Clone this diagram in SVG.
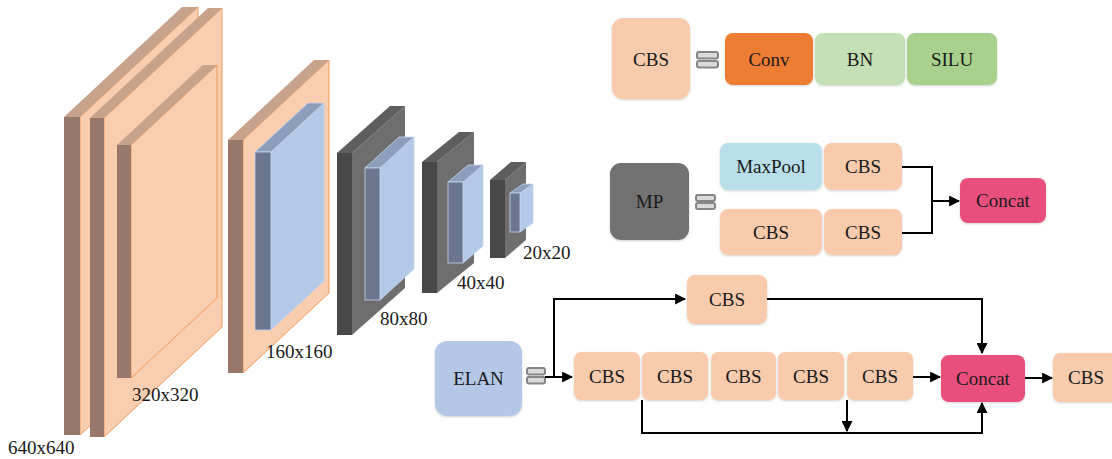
<svg xmlns="http://www.w3.org/2000/svg" width="1112" height="459" viewBox="0 0 1112 459">
  <defs>
    <filter id="soft" x="-10%" y="-10%" width="120%" height="125%">
      <feDropShadow dx="0" dy="1" stdDeviation="1.2" flood-color="#000" flood-opacity="0.18"/>
    </filter>
    <marker id="arrow" viewBox="0 0 10 10" refX="9" refY="5" markerWidth="5.5" markerHeight="5.5" orient="auto" markerUnits="strokeWidth">
      <path d="M0,0 L10,5 L0,10 z" fill="#000"/>
    </marker>
  </defs>
  <style>
    text { font-family: "Liberation Serif", "Times New Roman", serif; font-size: 19px; fill: #1a1a1a; }
    .lbl { text-anchor: middle; dominant-baseline: central; }
    .box { filter: url(#soft); }
    .cbs { fill: #F8CBAD; }
    .conv { fill: #ED7D31; }
    .bn { fill: #C5E0B4; }
    .silu { fill: #A9D18E; }
    .pool { fill: #B9E0EA; }
    .mp { fill: #727272; }
    .cat { fill: #E9507C; }
    .elan { fill: #B4C7E7; }
    .eq { fill: #DADADA; stroke: #858585; stroke-width: 2; }
    .wire { fill: none; stroke: #000; stroke-width: 2; }
    /* slab faces */
    .o-front { fill: #97786A; }
    .o-top { fill: #C8A38B; }
    .o-side { fill: #F9CDB0; stroke: #F39A5C; stroke-width: 1; }
    .b-front { fill: #6A778F; stroke: #C6D4EE; stroke-width: 0.8; }
    .b-top { fill: #8C9EBB; stroke: #C6D4EE; stroke-width: 0.8; }
    .b-side { fill: #B4C8E8; stroke: #C6D4EE; stroke-width: 0.8; }
    .d-front { fill: #484848; }
    .d-top { fill: #5E5E5E; }
    .d-side { fill: #6E6E6E; }
  </style>

  <!-- feature-map slabs: front strip, top face, side face -->
  <g id="slab-640a">
    <polygon class="o-side" points="80,117 198,7 198,327 80,435"/>
    <polygon class="o-top" points="64,117 80,117 198,7 182,7"/>
    <rect class="o-front" x="64" y="117" width="16" height="318"/>
  </g>
  <g id="slab-640b">
    <polygon class="o-side" points="104,118 222,8 222,327 104,437"/>
    <polygon class="o-top" points="90,118 104,118 222,8 208,8"/>
    <rect class="o-front" x="90" y="118" width="14" height="319"/>
  </g>
  <g id="slab-320">
    <polygon class="o-side" points="131,145 217,65 217,298 131,378"/>
    <polygon class="o-top" points="117,145 131,145 217,65 203,65"/>
    <rect class="o-front" x="117" y="145" width="14" height="233"/>
  </g>
  <g id="slab-160">
    <polygon class="o-side" points="243,140 329,60 329,293 243,373"/>
    <polygon class="o-top" points="228,140 243,140 329,60 314,60"/>
    <rect class="o-front" x="228" y="140" width="15" height="233"/>
    <polygon class="b-side" points="271,152 324,103 324,281 271,330"/>
    <polygon class="b-top" points="255,152 271,152 324,103 308,103"/>
    <rect class="b-front" x="255" y="152" width="16" height="178"/>
  </g>
  <g id="slab-80">
    <polygon class="d-side" points="352,153 405,106 405,288 352,335"/>
    <polygon class="d-top" points="337,153 352,153 405,106 390,106"/>
    <rect class="d-front" x="337" y="153" width="15" height="182"/>
    <polygon class="b-side" points="380,168 414,137 414,269 380,300"/>
    <polygon class="b-top" points="365,168 380,168 414,137 399,137"/>
    <rect class="b-front" x="365" y="168" width="15" height="132"/>
  </g>
  <g id="slab-40">
    <polygon class="d-side" points="437,162 474,132 474,263 437,293"/>
    <polygon class="d-top" points="422,162 437,162 474,132 459,132"/>
    <rect class="d-front" x="422" y="162" width="15" height="131"/>
    <polygon class="b-side" points="463,182 483,165 483,246 463,263"/>
    <polygon class="b-top" points="448,182 463,182 483,165 468,165"/>
    <rect class="b-front" x="448" y="182" width="15" height="81"/>
  </g>
  <g id="slab-20">
    <polygon class="d-side" points="505,180 526,162 526,240 505,258"/>
    <polygon class="d-top" points="490,180 505,180 526,162 511,162"/>
    <rect class="d-front" x="490" y="180" width="15" height="78"/>
    <polygon class="b-side" points="520,193 533,184 533,223 520,232"/>
    <polygon class="b-top" points="510,193 520,193 533,184 523,184"/>
    <rect class="b-front" x="510" y="193" width="10" height="39"/>
  </g>

  <g id="size-labels">
    <text x="8" y="454">640x640</text>
    <text x="132" y="401">320x320</text>
    <text x="266" y="358">160x160</text>
    <text x="380" y="325">80x80</text>
    <text x="457" y="289">40x40</text>
    <text x="523" y="259">20x20</text>
  </g>

  <!-- CBS definition -->
  <g id="cbs-def">
    <rect class="box cbs" x="612" y="18" width="78" height="81" rx="11"/>
    <text class="lbl" x="651" y="59">CBS</text>
  </g>
  <g id="eq-1">
    <rect class="eq" x="697" y="52" width="21" height="6.5" rx="2"/>
    <rect class="eq" x="697" y="61" width="21" height="6.5" rx="2"/>
  </g>
  <g id="conv">
    <rect class="box conv" x="725" y="33" width="88" height="52" rx="8"/>
    <text class="lbl" x="769" y="59">Conv</text>
  </g>
  <g id="bn">
    <rect class="box bn" x="815" y="33" width="90" height="52" rx="8"/>
    <text class="lbl" x="860" y="59">BN</text>
  </g>
  <g id="silu">
    <rect class="box silu" x="907" y="33" width="90" height="52" rx="8"/>
    <text class="lbl" x="952" y="59">SILU</text>
  </g>

  <!-- MP definition -->
  <g id="mp">
    <rect class="box mp" x="610" y="163" width="79" height="77" rx="11"/>
    <text class="lbl" x="649.5" y="201">MP</text>
  </g>
  <g id="eq-2">
    <rect class="eq" x="696" y="195" width="19" height="6" rx="2"/>
    <rect class="eq" x="696" y="203" width="19" height="6" rx="2"/>
  </g>
  <g id="maxpool">
    <rect class="box pool" x="720" y="143" width="102" height="47" rx="8"/>
    <text class="lbl" x="771" y="166">MaxPool</text>
  </g>
  <g id="mp-cbs-top">
    <rect class="box cbs" x="824" y="143" width="78" height="47" rx="8"/>
    <text class="lbl" x="863" y="166">CBS</text>
  </g>
  <g id="mp-cbs-bl">
    <rect class="box cbs" x="720" y="209" width="102" height="46" rx="8"/>
    <text class="lbl" x="771" y="232">CBS</text>
  </g>
  <g id="mp-cbs-br">
    <rect class="box cbs" x="824" y="209" width="78" height="46" rx="8"/>
    <text class="lbl" x="863" y="232">CBS</text>
  </g>
  <g id="mp-concat">
    <rect class="box cat" x="960" y="178" width="86" height="45" rx="8"/>
    <text class="lbl" x="1003" y="200.5">Concat</text>
  </g>

  <!-- ELAN definition -->
  <g id="elan">
    <rect class="box elan" x="435" y="341" width="87" height="75" rx="12"/>
    <text class="lbl" x="478.5" y="378.5">ELAN</text>
  </g>
  <g id="eq-3">
    <rect class="eq" x="527" y="368" width="18" height="6.5" rx="2"/>
    <rect class="eq" x="527" y="377" width="18" height="6.5" rx="2"/>
  </g>
  <g id="elan-cbs-top">
    <rect class="box cbs" x="687" y="275" width="80" height="49" rx="8"/>
    <text class="lbl" x="727" y="299.5">CBS</text>
  </g>
  <g id="elan-cbs-1">
    <rect class="box cbs" x="574" y="352" width="66" height="48" rx="7"/>
    <text class="lbl" x="607" y="376">CBS</text>
  </g>
  <g id="elan-cbs-2">
    <rect class="box cbs" x="642" y="352" width="66" height="48" rx="7"/>
    <text class="lbl" x="675" y="376">CBS</text>
  </g>
  <g id="elan-cbs-3">
    <rect class="box cbs" x="711" y="352" width="65" height="48" rx="7"/>
    <text class="lbl" x="743.5" y="376">CBS</text>
  </g>
  <g id="elan-cbs-4">
    <rect class="box cbs" x="778" y="352" width="66" height="48" rx="7"/>
    <text class="lbl" x="811" y="376">CBS</text>
  </g>
  <g id="elan-cbs-5">
    <rect class="box cbs" x="847" y="352" width="66" height="48" rx="7"/>
    <text class="lbl" x="880" y="376">CBS</text>
  </g>
  <g id="elan-concat">
    <rect class="box cat" x="941" y="355" width="84" height="47" rx="8"/>
    <text class="lbl" x="983" y="378.5">Concat</text>
  </g>
  <g id="elan-cbs-out">
    <rect class="box cbs" x="1053" y="353" width="66" height="49" rx="7"/>
    <text class="lbl" x="1086" y="377.5">CBS</text>
  </g>

  <g id="connectors">
    <!-- MP branches merge -->
    <polyline class="wire" points="902,167 932,167 932,233 902,233"/>
    <line class="wire" x1="932" y1="201" x2="959" y2="201" marker-end="url(#arrow)"/>
    <!-- ELAN main path and shortcut -->
    <line class="wire" x1="545" y1="377" x2="572" y2="377" marker-end="url(#arrow)"/>
    <polyline class="wire" points="554,377 554,299 685,299" marker-end="url(#arrow)"/>
    <polyline class="wire" points="767,299 982,299 982,353" marker-end="url(#arrow)"/>
    <line class="wire" x1="913" y1="377" x2="940" y2="377" marker-end="url(#arrow)"/>
    <line class="wire" x1="1025" y1="378" x2="1052" y2="378" marker-end="url(#arrow)"/>
    <polyline class="wire" points="642,400 642,433 982,433 982,403" marker-end="url(#arrow)"/>
    <line class="wire" x1="847" y1="400" x2="847" y2="431" marker-end="url(#arrow)"/>
  </g>
</svg>
